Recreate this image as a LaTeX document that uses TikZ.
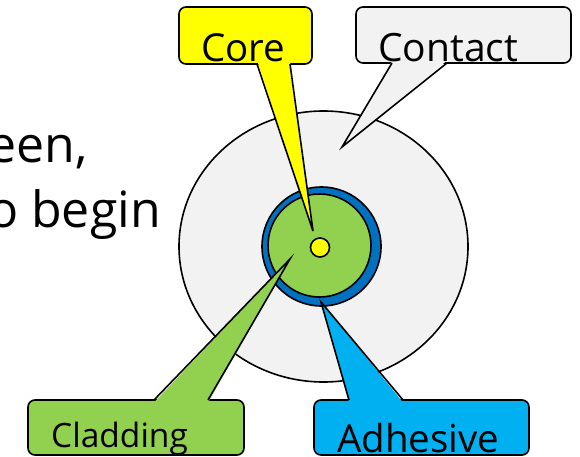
\documentclass[tikz,border=0pt]{standalone}
\usepackage{fontspec}
\setmainfont{Open Sans}
\usetikzlibrary{shapes.geometric}
\definecolor{cgray}{HTML}{F2F2F2}
\definecolor{cblue}{HTML}{0070C0}
\definecolor{cgreen}{HTML}{92D050}
\definecolor{cyellow}{HTML}{FFFF00}
\definecolor{csky}{HTML}{00B0F0}
\begin{document}
\begin{tikzpicture}[x=1pt,y=-1pt,
  outl/.style={draw=black,line width=1.6pt},
  callbox/.style={outl,rounded corners=7pt,inner sep=0pt},
  calltext/.style={inner sep=0pt,anchor=base west,text=black},
  bigtext/.style={inner sep=0pt,anchor=base east,text=black,font=\fontsize{50}{60}\selectfont}]
\useasboundingbox (0,0) rectangle (580,457);
\clip (0,0) rectangle (580,457);
% left text
\node[bigtext] (t1) at (88,162) {een,};
\node[bigtext] (t2) at (161,227) {o begin};
% circles
\node[ellipse,outl,fill=cgray,minimum width=289pt,minimum height=271pt,inner sep=0pt] (contactE) at (323.5,246.5) {};
\node[circle,outl,fill=cblue,minimum size=119pt,inner sep=0pt] (ring) at (321.5,246.5) {};
\node[circle,outl,fill=cgreen,minimum size=103pt,inner sep=0pt] (clad) at (319.5,245.5) {};
\node[circle,outl,fill=cyellow,minimum size=19pt,inner sep=0pt] (core) at (320,247.5) {};
% tips
\coordinate (coreTip) at (313,231);
\coordinate (contTip) at (342,147);
\coordinate (cladTip) at (290,259);
\coordinate (adhTip) at (321,302);
% Core callout
\node[callbox,fill=cyellow,minimum width=133pt,minimum height=57pt] (coreBox) at (245.5,35.5) {};
\fill[cyellow] (257.5,61.5) -- (290,61.5) -- (coreTip) -- cycle;
\draw[outl] (257,64) -- (coreTip) -- (290,64);
\node[calltext,font=\fontsize{38.5}{46}\selectfont] (coreT) at (201,62) {Core};
% Contact callout
\node[callbox,fill=cgray,minimum width=215pt,minimum height=56pt] (contBox) at (463.5,35) {};
\fill[cgray] (392.5,60.5) -- (447,60.5) -- (contTip) -- cycle;
\draw[outl] (392,63) -- (contTip) -- (447,63);
\node[calltext,font=\fontsize{39}{46}\selectfont] (contT) at (378,62) {Contact};
% Cladding callout
\node[callbox,fill=cgreen,minimum width=216pt,minimum height=55pt] (cladBox) at (136,427.5) {};
\fill[cgreen] (154,402.5) -- (208,402.5) -- (cladTip) -- cycle;
\draw[outl] (154,400) -- (cladTip) -- (208,400);
\node[calltext,font=\fontsize{33.5}{40}\selectfont] (cladT) at (51,447) {Cladding};
% Adhesive callout
\node[callbox,fill=csky,minimum width=215pt,minimum height=55pt] (adhBox) at (421.5,427.5) {};
\fill[csky] (349,402.5) -- (403,402.5) -- (adhTip) -- cycle;
\draw[outl] (349,400) -- (adhTip) -- (403,400);
\node[calltext,font=\fontsize{38.5}{46}\selectfont] (adhT) at (337,452) {Adhesive};
\end{tikzpicture}
\end{document}
